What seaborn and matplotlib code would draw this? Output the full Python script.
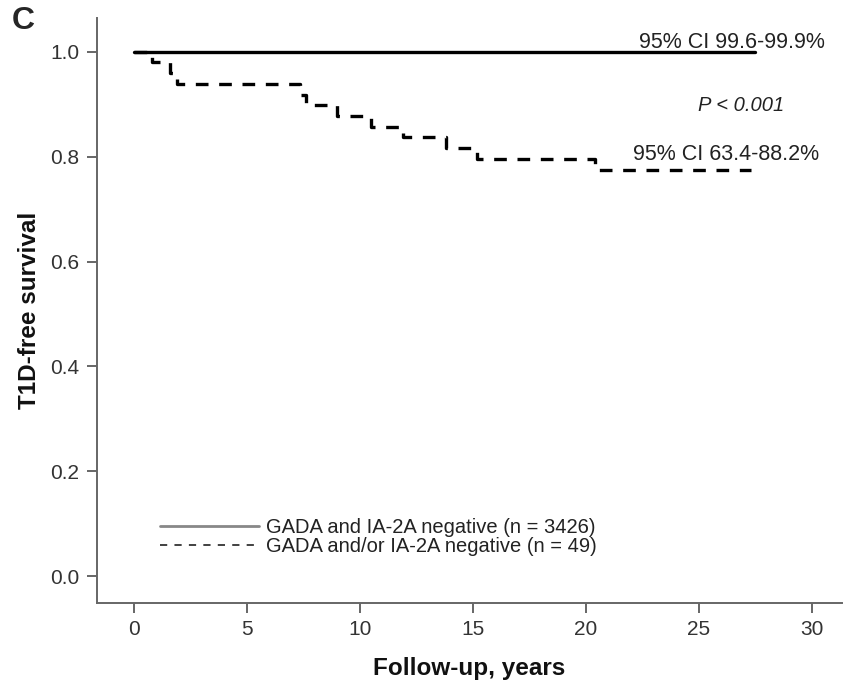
import matplotlib
matplotlib.use("Agg")
import matplotlib.pyplot as plt
from matplotlib.lines import Line2D
import seaborn as sns
import pandas as pd

# ---- data ----
neg_times = [0.0, 27.5]
neg_surv = [1.0, 1.0]
pos_times = [0.0, 0.8, 1.6, 1.9, 7.35, 7.6, 9.0, 10.5, 11.9, 13.8, 15.2, 20.4, 27.3]
pos_surv = [1.0, 0.980, 0.959, 0.939, 0.918, 0.898, 0.878, 0.857, 0.837, 0.816, 0.796, 0.775, 0.775]
group_labels = ["GADA and IA-2A negative (n = 3426)", "GADA and/or IA-2A negative (n = 49)"]
x_ticks = [0, 5, 10, 15, 20, 25, 30]
y_ticks = [0.0, 0.2, 0.4, 0.6, 0.8, 1.0]
ci_labels = ["95% CI 99.6-99.9%", "95% CI 63.4-88.2%"]
p_label = "P < 0.001"

sns.set_theme(style="ticks")
plt.rcParams["font.family"] = ["Liberation Sans", "DejaVu Sans"]

df_neg = pd.DataFrame({"time": neg_times, "surv": neg_surv})
df_pos = pd.DataFrame({"time": pos_times, "surv": pos_surv})

fig = plt.figure(figsize=(8.43, 6.88), dpi=100)
ax = fig.add_axes([0.115, 0.1235, 0.884, 0.8505])

sns.lineplot(data=df_neg, x="time", y="surv", ax=ax, color="black", linewidth=2.4,
             drawstyle="steps-post", legend=False, estimator=None, sort=False)
sns.lineplot(data=df_pos, x="time", y="surv", ax=ax, color="black", linewidth=2.4,
             drawstyle="steps-post", legend=False, estimator=None, sort=False)
ax.lines[1].set_dashes((3.8, 3.2))

ax.set_xlim(-1.65, 31.35)
ax.set_ylim(-0.0515, 1.065)
ax.set_xticks(x_ticks)
ax.set_xticklabels([str(t) for t in x_ticks])
ax.set_yticks(y_ticks)
ax.set_yticklabels([f"{t:.1f}" for t in y_ticks])

for s in ["top", "right"]:
    ax.spines[s].set_visible(False)
for s in ["left", "bottom"]:
    ax.spines[s].set_color("#666666")
    ax.spines[s].set_linewidth(1.4)
ax.tick_params(axis="both", direction="out", length=7.5, width=1.4, color="#666666",
               labelsize=15, labelcolor="#333333")
ax.tick_params(axis="x", pad=5)
ax.tick_params(axis="y", pad=5)

ax.set_xlabel("Follow-up, years", fontsize=17.5, fontweight="bold", color="#111111", labelpad=13)
ax.set_ylabel("T1D-free survival", fontsize=17.5, fontweight="bold", color="#111111", labelpad=7)

ax.text(26.46, 1.008, ci_labels[0], fontsize=15.5, color="#222222", ha="center", va="baseline")
ax.text(26.86, 0.887, p_label, fontsize=14.5, style="italic", color="#222222", ha="center", va="baseline")
ax.text(26.2, 0.794, ci_labels[1], fontsize=15.5, color="#222222", ha="center", va="baseline")

fig.text(12 / 843, 1 - 6 / 688, "C", fontsize=23, fontweight="bold", ha="left", va="top")

handles = [Line2D([], [], color="#888888", linewidth=2.0),
           Line2D([], [], color="#333333", linewidth=1.3, linestyle=(0, (4, 4)))]
leg = ax.legend(handles, group_labels, loc="upper left", bbox_to_anchor=(0.0845, 0.146),
                frameon=False, fontsize=14.5, handlelength=4.9, handletextpad=0.35,
                labelspacing=0.0, borderaxespad=0, borderpad=0)
for t in leg.get_texts():
    t.set_color("#222222")

fig.savefig("out.png", dpi=100)
